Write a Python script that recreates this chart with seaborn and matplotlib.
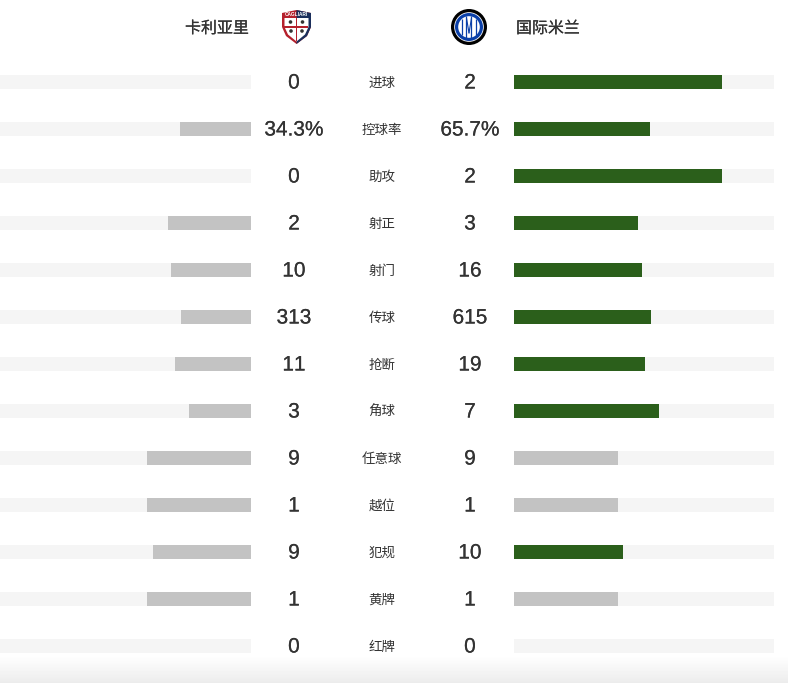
import numpy as np
import pandas as pd
import matplotlib
matplotlib.use("Agg")
import matplotlib.pyplot as plt
import matplotlib.patheffects as pe
from matplotlib.patches import Circle, Polygon, Rectangle
import seaborn as sns

W, H = 788, 683
ROW_Y0, ROW_STEP = 82, 47
GREEN = "#2b5f1b"
GREY = "#c3c3c3"
TRACK = "#f5f5f5"
TEXT = "#333333"

home_team = "卡利亚里"
away_team = "国际米兰"
metrics = ["进球", "控球率", "助攻", "射正", "射门", "传球", "抢断", "角球", "任意球", "越位", "犯规", "黄牌", "红牌"]
home_labels = ["0", "34.3%", "0", "2", "10", "313", "11", "3", "9", "1", "9", "1", "0"]
away_labels = ["2", "65.7%", "2", "3", "16", "615", "19", "7", "9", "1", "10", "1", "0"]
# bar length as percent of the grey track
home_share = [0, 27.4, 0, 32, 30.8, 26.9, 29.3, 24, 40, 40, 37.7, 40, 0]
away_share = [80, 52.4, 80, 47.8, 49.2, 52.7, 50.4, 55.8, 40, 40, 42.1, 40, 0]
track_share = [100] * len(metrics)

df = pd.DataFrame({"metric": metrics, "home": home_share, "away": away_share, "track": track_share})
df["tone"] = np.where(df["away"] > df["home"], "lead", "even")

sns.set_theme(style="white")
plt.rcParams["font.family"] = ["Liberation Sans", "Noto Sans CJK SC", "DejaVu Sans"]
plt.rcParams["text.kerning_factor"] = 6

fig = plt.figure(figsize=(W / 100, H / 100), dpi=100, facecolor="white")
bar_kw = dict(saturation=1, width=14 / ROW_STEP, order=metrics, linewidth=0)


def bar_axes(x0, x1):
    top = ROW_Y0 - ROW_STEP / 2
    bottom = ROW_Y0 + ROW_STEP * (len(metrics) - 0.5)
    return fig.add_axes([x0 / W, 1 - bottom / H, (x1 - x0) / W, (bottom - top) / H])


# left side, track is clipped by the page edge
ax_home = bar_axes(0, 251)
sns.barplot(ax=ax_home, data=df, y="metric", x="track", color=TRACK, **bar_kw)
sns.barplot(ax=ax_home, data=df, y="metric", x="home", color=GREY, **bar_kw)
ax_home.set_xlim(251 / 260 * 100, 0)

ax_away = bar_axes(514, 774)
sns.barplot(ax=ax_away, data=df, y="metric", x="track", color=TRACK, **bar_kw)
sns.barplot(ax=ax_away, data=df, y="metric", x="away", hue="tone", palette={"lead": GREEN, "even": GREY},
            dodge=False, legend=False, **bar_kw)
ax_away.set_xlim(0, 100)

for ax in (ax_home, ax_away):
    ax.set_ylim(len(metrics) - 0.5, -0.5)
    ax.axis("off")

# overlay in pixel coordinates for the texts, logos and the bottom fade
over = fig.add_axes([0, 0, 1, 1], zorder=5)
over.axis("off")
over.patch.set_alpha(0)

heavy = [pe.withStroke(linewidth=0.12, foreground=TEXT)]
for i, name in enumerate(metrics):
    y = ROW_Y0 + ROW_STEP * i + 1
    over.text(294, y, home_labels[i], ha="center", va="center", fontsize=15, color=TEXT, path_effects=heavy)
    over.text(470, y, away_labels[i], ha="center", va="center", fontsize=15, color=TEXT, path_effects=heavy)
    over.text(382, y + 0.5, name, ha="center", va="center", fontsize=9.7, color=TEXT)

over.text(249, 28.5, home_team, ha="right", va="center", fontsize=11.5, color=TEXT, path_effects=heavy)
over.text(516, 28.5, away_team, ha="left", va="center", fontsize=11.5, color=TEXT, path_effects=heavy)

# Cagliari crest
shield = [(282, 13), (296.5, 10), (311, 13), (311, 27), (307, 36), (296.5, 44), (286, 36), (282, 27)]
over.add_patch(Polygon(shield, closed=True, fc="#b5202c", ec="none"))
over.add_patch(Polygon([(296.5, 10), (311, 13), (311, 27), (307, 36), (296.5, 44)], closed=True, fc="#1b2f5b", ec="none"))
over.add_patch(Polygon([(284.5, 18), (308.5, 18), (308.5, 27), (305, 34.5), (296.5, 41.5), (288, 34.5), (284.5, 27)],
                       closed=True, fc="white", ec="none"))
over.add_patch(Rectangle((295.6, 18), 1.8, 23, fc="#b5202c", ec="none"))
over.add_patch(Rectangle((284.5, 25.8), 24, 1.8, fc="#b5202c", ec="none"))
for cx, cy in [(290.5, 22), (302.5, 22), (291, 31), (302, 31)]:
    over.add_patch(Circle((cx, cy), 1.8, fc="#333333", ec="none"))
over.text(296.5, 15, "CAGLIARI", ha="center", va="center", fontsize=3.4, color="white", fontweight="bold")

# Inter crest
over.add_patch(Circle((469, 27), 18, fc="black", ec="none"))
over.add_patch(Circle((469, 27), 14.8, fc="white", ec="none"))
over.add_patch(Circle((469, 27), 14, fc="#0a3fa8", ec="none"))
over.add_patch(Circle((469, 27), 10.8, fc="white", ec="none"))
for dx in (-7, -2.5, 2.5, 7):
    half = np.sqrt(10.8 ** 2 - dx ** 2)
    over.plot([469 + dx, 469 + dx], [27 - half, 27 + half], color="#0a3fa8", lw=0.9, solid_capstyle="butt")
over.plot([469 - 2.5, 469], [27 - 9, 27 + 6], color="#0a3fa8", lw=0.8)
over.plot([469, 469 + 2.5], [27 + 6, 27 - 9], color="#0a3fa8", lw=0.8)

# fade at the bottom of the page
fade = np.linspace(1.0, 0.925, 28).reshape(-1, 1)
over.imshow(fade, cmap="gray", vmin=0, vmax=1, extent=(0, W, H, 655), aspect="auto", zorder=0)
over.set_xlim(0, W)
over.set_ylim(H, 0)

fig.savefig("out.png", dpi=100)
